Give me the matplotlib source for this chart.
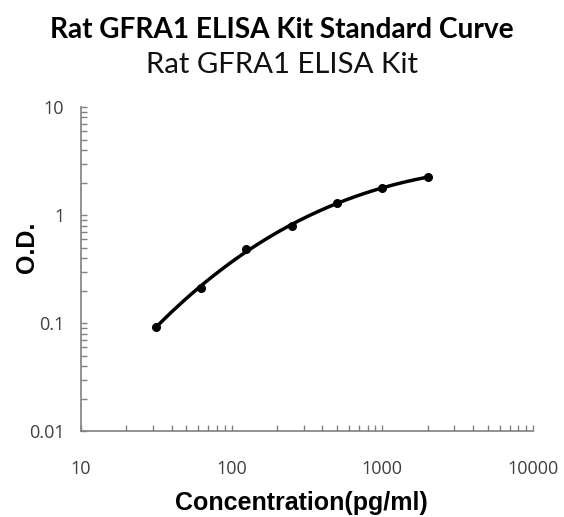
import numpy as np
import matplotlib
matplotlib.use('Agg')
import matplotlib.pyplot as plt

# standard curve data
conc = [31.25, 62.5, 125, 250, 500, 1000, 2000]
od = [0.092, 0.21, 0.49, 0.79, 1.29, 1.78, 2.25]

# smooth fit in log-log space
lx = np.log10(conc)
ly = np.log10(od)
coef = np.polyfit(lx, ly, 3)
xs = np.linspace(lx[0], lx[-1], 200)
ys = np.polyval(coef, xs)

fig = plt.figure(figsize=(5.64, 5.17), dpi=100)
ax = fig.add_axes([0.1436, 0.166, 0.8014, 0.627])

ax.plot(10 ** xs, 10 ** ys, color='black', lw=2.5)
ax.scatter(conc, od, color='black', s=30, zorder=3)

ax.set_xscale('log')
ax.set_yscale('log')
ax.set_xlim(10, 10000)
ax.set_ylim(0.01, 10)

for s in ['top', 'right']:
    ax.spines[s].set_visible(False)
for s in ['left', 'bottom']:
    ax.spines[s].set_color('#808080')
    ax.spines[s].set_linewidth(1.2)

ax.tick_params(which='both', direction='in', color='#808080', length=4, width=1)
ax.tick_params(axis='x', which='major', pad=21)
ax.tick_params(axis='y', which='major', pad=12)
ax.set_xticks([10, 100, 1000, 10000])
ax.set_xticklabels(['10', '100', '1000', '10000'])
ax.set_yticks([0.01, 0.1, 1, 10])
ax.set_yticklabels(['0.01', '0.1', '1', '10'])
for lab in ax.get_xticklabels() + ax.get_yticklabels():
    lab.set_fontsize(13)
    lab.set_color('#404040')
    lab.set_family('Open Sans')

fig.text(0.534, 0.027, 'Concentration(pg/ml)', ha='center', va='center',
         fontsize=18, fontweight='bold', family='Liberation Sans')
fig.text(0.048, 0.522, 'O.D.', ha='center', va='center', rotation=90,
         fontsize=18, fontweight='bold', family='Liberation Sans')

fig.text(0.5, 0.942, 'Rat GFRA1 ELISA Kit Standard Curve', ha='center', va='center',
         fontsize=20.2, fontweight='bold', family='Lato')
fig.text(0.5, 0.874, 'Rat GFRA1 ELISA Kit', ha='center', va='center',
         fontsize=21.2, fontweight='normal', family='Lato', color='#111111')

fig.savefig('out.png', dpi=100)
